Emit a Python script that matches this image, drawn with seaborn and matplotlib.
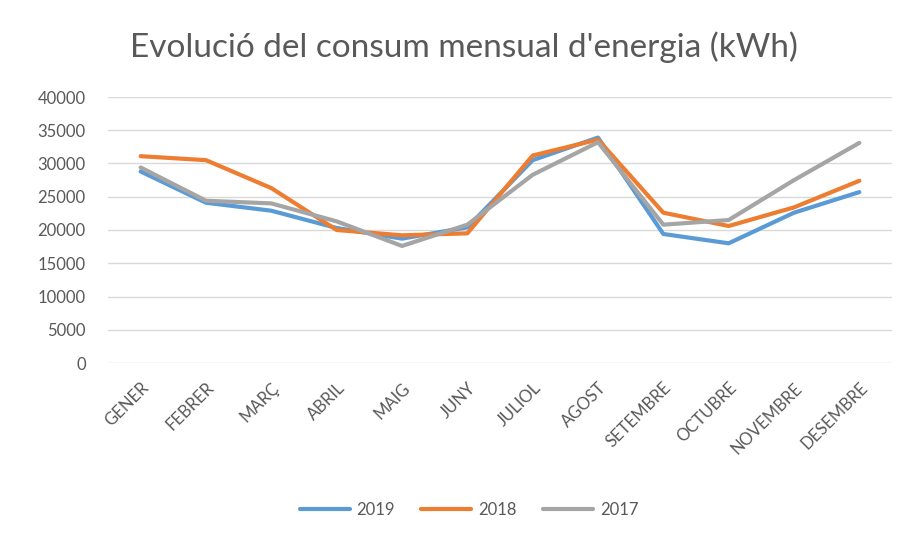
import seaborn as sns
import pandas as pd
import matplotlib.pyplot as plt

months = ['GENER', 'FEBRER', 'MARÇ', 'ABRIL', 'MAIG', 'JUNY', 'JULIOL',
          'AGOST', 'SETEMBRE', 'OCTUBRE', 'NOVEMBRE', 'DESEMBRE']
years = ['2019', '2018', '2017']
consum_2019 = [28800, 24100, 22900, 20300, 18700, 20400, 30500,
               33900, 19400, 18000, 22600, 25700]
consum_2018 = [31100, 30500, 26300, 20000, 19200, 19500, 31200,
               33600, 22600, 20600, 23400, 27400]
consum_2017 = [29400, 24400, 24000, 21300, 17600, 20800, 28300,
               33200, 20800, 21500, 27500, 33100]
colors = ['#5B9BD5', '#ED7D31', '#A5A5A5']

df = pd.DataFrame({
    'Mes': months * 3,
    'Any': [y for y in years for _ in months],
    'Consum': consum_2019 + consum_2018 + consum_2017,
})

sns.set_style("white")
plt.rcParams['font.family'] = ['Lato', 'DejaVu Sans']
text_color = '#595959'

fig = plt.figure(figsize=(9.13, 5.43), dpi=100)
ax = fig.add_axes([108 / 913, 1 - 363 / 543, 784 / 913, 266 / 543])

sns.lineplot(data=df, x='Mes', y='Consum', hue='Any', palette=colors,
             linewidth=3, sort=False, ax=ax, legend=False)

ax.set_xlim(-0.5, 11.5)
ax.set_ylim(0, 40000)
ax.set_yticks(range(0, 40001, 5000))
ax.grid(axis='y', color='#d9d9d9', linewidth=1)
ax.set_axisbelow(True)
sns.despine(ax=ax, left=True, bottom=True)
ax.set_xlabel('')
ax.set_ylabel('')
ax.tick_params(axis='both', length=0, colors=text_color, labelsize=12)
ax.tick_params(axis='y', pad=16)
ax.set_xticks(range(len(months)))
ax.set_xticklabels(months, rotation=45, ha='right', rotation_mode='anchor')
ax.tick_params(axis='x', pad=12)

fig.text(464 / 913, 1 - 47 / 543, "Evolució del consum mensual d'energia (kWh)",
         ha='center', va='center', fontsize=24, color=text_color)

handles = [plt.Line2D([0], [0], color=c, lw=3, solid_capstyle='round') for c in colors]
fig.legend(handles, years, loc='center', bbox_to_anchor=(469 / 913, 1 - 510 / 543),
           ncol=3, frameon=False, fontsize=12, labelcolor=text_color,
           handlelength=3.0, handletextpad=0.4, columnspacing=1.6)

fig.savefig('out.png', dpi=100)
